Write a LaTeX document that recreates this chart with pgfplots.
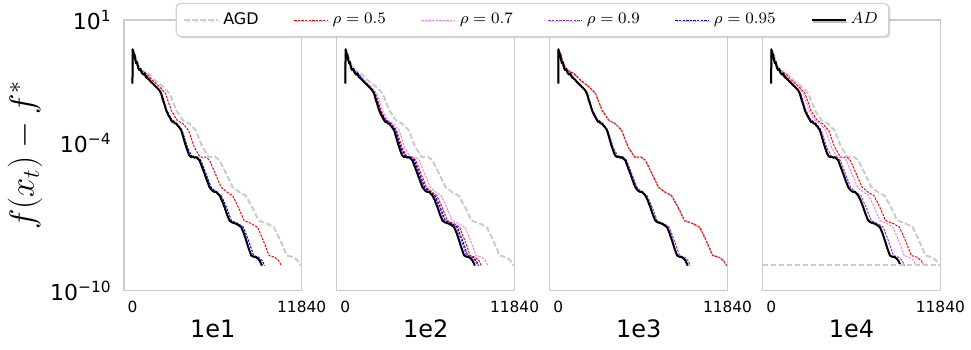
\documentclass[border=0pt]{standalone}
\usepackage{fontspec}
\setmainfont{DejaVu Sans}
\usepackage{graphicx}
\usepackage{pgfplots}
\usepackage{pgfplotstable}
\pgfplotsset{compat=1.18}
\usetikzlibrary{shadows}
\definecolor{cpink}{HTML}{EE82EE}
\definecolor{cpurple}{HTML}{8A2BE2}
\definecolor{cgray}{HTML}{CBCBCB}

% AD (base curve, same in every panel): x = iteration, y = log10(f(x_t)-f*)
\pgfplotstableread{
x y
0 -1.58
15 -0.19
80 -0.45
130 -0.38
200 -0.62
260 -0.76
320 -0.70
400 -0.95
490 -1.04
560 -0.98
650 -1.15
760 -1.22
840 -1.17
950 -1.33
1050 -1.36
1190 -1.44
1300 -1.52
1420 -1.58
1550 -1.66
1660 -1.72
1800 -1.80
1900 -1.87
2010 -1.99
2130 -2.25
2250 -2.45
2360 -2.67
2500 -2.85
2600 -2.95
2710 -3.07
2800 -3.15
2880 -3.12
2960 -3.20
3060 -3.21
3150 -3.28
3260 -3.35
3410 -3.48
3550 -3.75
3660 -3.98
3760 -4.16
3900 -4.40
4000 -4.52
4110 -4.57
4250 -4.55
4350 -4.60
4460 -4.57
4550 -4.63
4690 -4.70
4850 -4.95
5040 -5.24
5200 -5.50
5390 -5.79
5500 -5.88
5620 -5.95
5740 -5.99
5850 -5.97
5960 -6.05
6090 -6.13
6250 -6.32
6440 -6.60
6600 -6.88
6790 -7.15
6950 -7.22
7100 -7.25
7260 -7.28
7430 -7.34
7610 -7.42
7780 -7.65
7960 -7.96
8130 -8.28
8310 -8.57
8480 -8.62
8660 -8.64
8780 -8.70
8900 -8.78
9000 -8.90
9060 -8.98
}\tAD

\pgfplotstableread{
x y
0 -1.58
15 -0.19
133 -0.38
265 -0.76
500 -1.04
857 -1.17
1214 -1.44
1693 -1.72
2050 -1.99
2407 -2.67
2764 -3.07
3121 -3.21
3478 -3.48
3835 -4.16
4192 -4.57
4549 -4.57
4784 -4.70
5141 -5.24
5498 -5.79
5855 -5.99
6212 -6.13
6569 -6.60
6926 -7.15
7405 -7.28
7762 -7.42
8119 -7.96
8476 -8.57
8833 -8.64
9078 -8.78
9241 -8.98
}\tA

\pgfplotstableread{
x y
0 -1.58
15 -0.19
134 -0.38
268 -0.76
505 -1.04
865 -1.17
1226 -1.44
1710 -1.72
2070 -1.99
2431 -2.67
2791 -3.07
3152 -3.21
3512 -3.48
3873 -4.16
4233 -4.57
4594 -4.57
4831 -4.70
5191 -5.24
5552 -5.79
5912 -5.99
6273 -6.13
6633 -6.60
6994 -7.15
7478 -7.28
7838 -7.42
8199 -7.96
8559 -8.57
8920 -8.64
9167 -8.78
9332 -8.98
}\tB

\pgfplotstableread{
x y
0 -1.58
16 -0.19
137 -0.38
273 -0.76
515 -1.04
882 -1.17
1250 -1.44
1743 -1.72
2111 -1.99
2478 -2.67
2846 -3.07
3213 -3.21
3581 -3.48
3948 -4.16
4316 -4.57
4683 -4.57
4925 -4.70
5292 -5.24
5660 -5.79
6027 -5.99
6395 -6.13
6762 -6.60
7130 -7.15
7623 -7.28
7991 -7.42
8358 -7.96
8726 -8.57
9093 -8.64
9345 -8.78
9513 -8.98
}\tC

\pgfplotstableread{
x y
0 -1.58
17 -0.19
143 -0.38
286 -0.76
539 -1.04
924 -1.17
1309 -1.44
1826 -1.72
2211 -1.99
2596 -2.67
2981 -3.07
3366 -3.21
3751 -3.48
4136 -4.16
4521 -4.57
4906 -4.57
5159 -4.70
5544 -5.24
5929 -5.79
6314 -5.99
6699 -6.13
7084 -6.60
7469 -7.15
7986 -7.28
8371 -7.42
8756 -7.96
9141 -8.57
9526 -8.64
9790 -8.78
9966 -8.98
}\tD

\pgfplotstableread{
x y
0 -1.58
17 -0.19
146 -0.38
291 -0.76
549 -1.04
941 -1.17
1333 -1.44
1859 -1.72
2251 -1.99
2643 -2.67
3035 -3.07
3427 -3.21
3819 -3.48
4211 -4.16
4603 -4.57
4995 -4.57
5253 -4.70
5645 -5.24
6037 -5.79
6429 -5.99
6821 -6.13
7213 -6.60
7605 -7.15
8131 -7.28
8523 -7.42
8915 -7.96
9307 -8.57
9699 -8.64
9968 -8.78
10147 -8.98
}\tE

\pgfplotstableread{
x y
0 -1.58
17 -0.19
150 -0.38
299 -0.76
564 -1.04
966 -1.17
1369 -1.44
1909 -1.72
2312 -1.99
2714 -2.67
3117 -3.07
3519 -3.21
3922 -3.48
4324 -4.16
4727 -4.57
5129 -4.57
5394 -4.70
5796 -5.24
6199 -5.79
6601 -5.99
7004 -6.13
7406 -6.60
7809 -7.15
8349 -7.28
8752 -7.42
9154 -7.96
9557 -8.57
9959 -8.64
10235 -8.78
10419 -8.98
}\tF

\pgfplotstableread{
x y
0 -1.58
18 -0.19
153 -0.38
307 -0.76
578 -1.04
991 -1.17
1404 -1.44
1959 -1.72
2372 -1.99
2785 -2.67
3198 -3.07
3611 -3.21
4024 -3.48
4437 -4.16
4850 -4.57
5263 -4.57
5534 -4.70
5947 -5.24
6360 -5.79
6773 -5.99
7186 -6.13
7599 -6.60
8012 -7.15
8567 -7.28
8980 -7.42
9393 -7.96
9806 -8.57
10219 -8.64
10502 -8.78
10691 -8.98
}\tG

% AGD
\pgfplotstableread{
x y
0 -1.58
20 -0.19
169 -0.38
338 -0.76
637 -1.04
1092 -1.17
1547 -1.44
2158 -1.72
2613 -1.99
3068 -2.67
3523 -3.07
3978 -3.21
4433 -3.48
4888 -4.16
5343 -4.57
5798 -4.57
6097 -4.70
6552 -5.24
7007 -5.79
7462 -5.99
7917 -6.13
8372 -6.60
8827 -7.15
9438 -7.28
9893 -7.42
10348 -7.96
10803 -8.57
11258 -8.64
11570 -8.78
11778 -8.98
}\tAGD

\pgfplotsset{
  panel/.style={
    width=88.85pt, height=135.35pt, scale only axis,
    anchor=south west,
    xmin=-592, xmax=11840, ymin=-10, ymax=1,
    axis line style={draw=cgray, line width=0.6pt},
    major tick length=0pt,
    scaled x ticks=false, scaled y ticks=false,
    xtick={0,11840}, xticklabels={0,11840},
    xticklabel style={font=\fontsize{7.7}{9}\selectfont, anchor=center, yshift=-8.15pt},
    ytick=\empty,
    xlabel style={font=\fontsize{12}{14}\selectfont, at={(axis description cs:0.5,0)}, anchor=center, yshift=-19.15pt},
    legend image code/.code={\draw[#1] (0pt,0pt) -- (17pt,0pt);},
    line join=round,
  },
  agd/.style={cgray, line width=1pt, dash pattern=on 2.8pt off 1.2pt},
  s5/.style={red, line width=0.5pt, dash pattern=on 1.2pt off 0.6pt},
  s7/.style={cpink, line width=0.5pt, dash pattern=on 1.2pt off 0.6pt},
  s9/.style={cpurple, line width=0.5pt, dash pattern=on 1.2pt off 0.6pt},
  s95/.style={blue, line width=0.5pt, dash pattern=on 1.2pt off 0.6pt},
  ad/.style={black, line width=1pt, solid},
}

\begin{document}
\begin{tikzpicture}
% panel 1
\begin{axis}[panel, at={(0pt,0pt)},
  ytick={-10,-4,1},
  yticklabels={10\textsuperscript{−10},10\textsuperscript{−4},10\textsuperscript{1}},
  yticklabel style={font=\fontsize{11}{12}\selectfont, anchor=east, inner xsep=0pt, xshift=-6pt},
  ylabel={\fontsize{18}{20}\selectfont $f(x_t)-f^{*}$},
  ylabel style={at={(axis description cs:-0.5571,0.5)}, anchor=center},
  xlabel={1e1}]
\addplot[agd] table[x=x,y=y] {\tAGD};
\addplot[s5] table[x=x,y=y] {\tF};
\addplot[s7] table[x=x,y=y] {\tAD};
\addplot[s9] table[x=x,y=y] {\tAD};
\addplot[s95] table[x=x,y=y] {\tA};
\addplot[ad] table[x=x,y=y] {\tAD};
\end{axis}
% panel 2
\begin{axis}[panel, at={(106.45pt,0pt)}, xlabel={1e2}]
\addplot[agd] table[x=x,y=y] {\tAGD};
\addplot[s5] table[x=x,y=y] {\tC};
\addplot[s7] table[x=x,y=y] {\tD};
\addplot[s9] table[x=x,y=y] {\tA};
\addplot[s95] table[x=x,y=y] {\tB};
\addplot[ad] table[x=x,y=y] {\tAD};
\end{axis}
% panel 3
\begin{axis}[panel, at={(212.9pt,0pt)}, xlabel={1e3}]
\addplot[agd] table[x=x,y=y] {\tAGD};
\addplot[s5] table[x=x,y=y] {\tAGD};
\addplot[s7] table[x=x,y=y] {\tAD};
\addplot[s9] table[x=x,y=y] {\tA};
\addplot[s95] table[x=x,y=y] {\tAD};
\addplot[ad] table[x=x,y=y] {\tAD};
\end{axis}
% panel 4
\begin{axis}[panel, at={(319.35pt,0pt)}, xlabel={1e4},
  legend columns=6,
  legend cell align=left,
  legend style={at={(-1.2954,1.0)}, anchor=center, draw=black!18, fill=white,
    rounded corners=2pt, line width=0.6pt,
    font=\fontsize{8}{9}\selectfont,
    inner xsep=3.5pt, inner ysep=2.5pt,
    drop shadow={shadow xshift=0.8pt, shadow yshift=-0.8pt, opacity=0.25, fill=black!60},
    /tikz/every even column/.append style={column sep=15.5pt}},
  ]
\addplot[agd] table[x=x,y=y] {\tAGD};
\addplot[s5] table[x=x,y=y] {\tG};
\addplot[s7] table[x=x,y=y] {\tE};
\addplot[s9] table[x=x,y=y] {\tB};
\addplot[s95] table[x=x,y=y] {\tAD};
\addplot[ad] table[x=x,y=y] {\tAD};
\addplot[agd, forget plot] coordinates {(-592,-8.96) (11840,-8.96)};
\legend{AGD,$\rho=0.5$,$\rho=0.7$,$\rho=0.9$,$\rho=0.95$,$AD$}
\end{axis}
\pgfresetboundingbox
\path[use as bounding box] (-62pt,-29.15pt) rectangle (423.5pt,145.35pt);
\end{tikzpicture}
\end{document}
